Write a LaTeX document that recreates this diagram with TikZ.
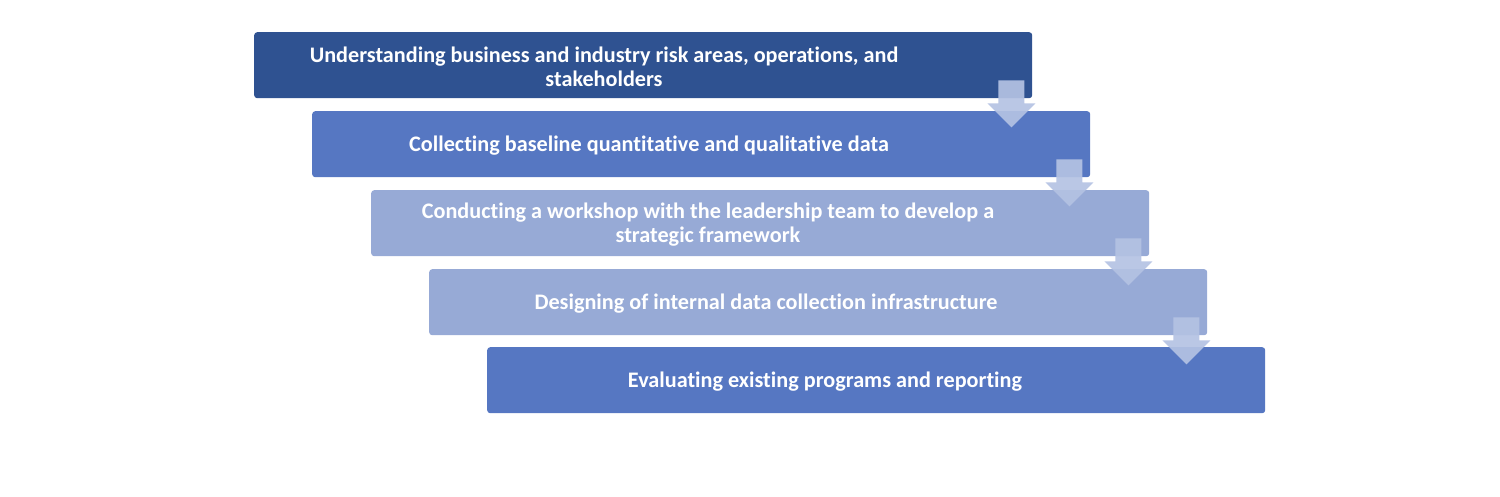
\documentclass[tikz,border=0pt]{standalone}
\usepackage{fontspec}
\setmainfont{Carlito}[Ligatures={NoCommon}]
\usetikzlibrary{calc}
\definecolor{cdark}{HTML}{2F5291}
\definecolor{cmid}{HTML}{5677C2}
\definecolor{clight}{HTML}{97AAD6}
\definecolor{carrow}{HTML}{B4C2E3}
\tikzset{
  stepbox/.style={draw=none, rounded corners=3pt, minimum width=778pt, minimum height=66pt, inner sep=0pt, anchor=north west},
  steptext/.style={text=white, font=\fontsize{22.2}{24}\selectfont\bfseries, align=center, inner sep=0pt},
  downarrow/.style={fill=carrow, draw=none, fill opacity=0.92}
}
\begin{document}
\begin{tikzpicture}[x=1pt,y=-1pt]
\useasboundingbox (0,0) rectangle (1500,496);
\node[stepbox, fill=cdark] (b1) at (254,32) {};
\node[stepbox, fill=cmid] (b2) at (312,111) {};
\node[stepbox, fill=clight] (b3) at (371,190) {};
\node[stepbox, fill=clight] (b4) at (429,269) {};
\node[stepbox, fill=cmid] (b5) at (487,347) {};
\node[steptext] (t1) at ($(b1.west)+(350,1.5)$) {Understanding business and industry risk areas, operations, and\\stakeholders};
\node[steptext] (t2) at ($(b2.west)+(337,1.5)$) {Collecting baseline quantitative and qualitative data};
\node[steptext] (t3) at ($(b3.west)+(337,1.5)$) {Conducting a workshop with the leadership team to develop a\\strategic framework};
\node[steptext] (t4) at ($(b4.west)+(337,1.5)$) {Designing of internal data collection infrastructure};
\node[steptext] (t5) at ($(b5.west)+(338,1.5)$) {Evaluating existing programs and reporting};
\foreach \a in {1,2,3,4}{
  \coordinate (s\a) at ($(b\a.south east)+(-21,-18)$);
  \fill[downarrow] ($(s\a)+(-13,0)$) -- ($(s\a)+(13,0)$) -- ($(s\a)+(13,23)$) -- ($(s\a)+(24,23)$)
     -- ($(s\a)+(0,47)$) -- ($(s\a)+(-24,23)$) -- ($(s\a)+(-13,23)$) -- cycle;
}
\end{tikzpicture}
\end{document}
